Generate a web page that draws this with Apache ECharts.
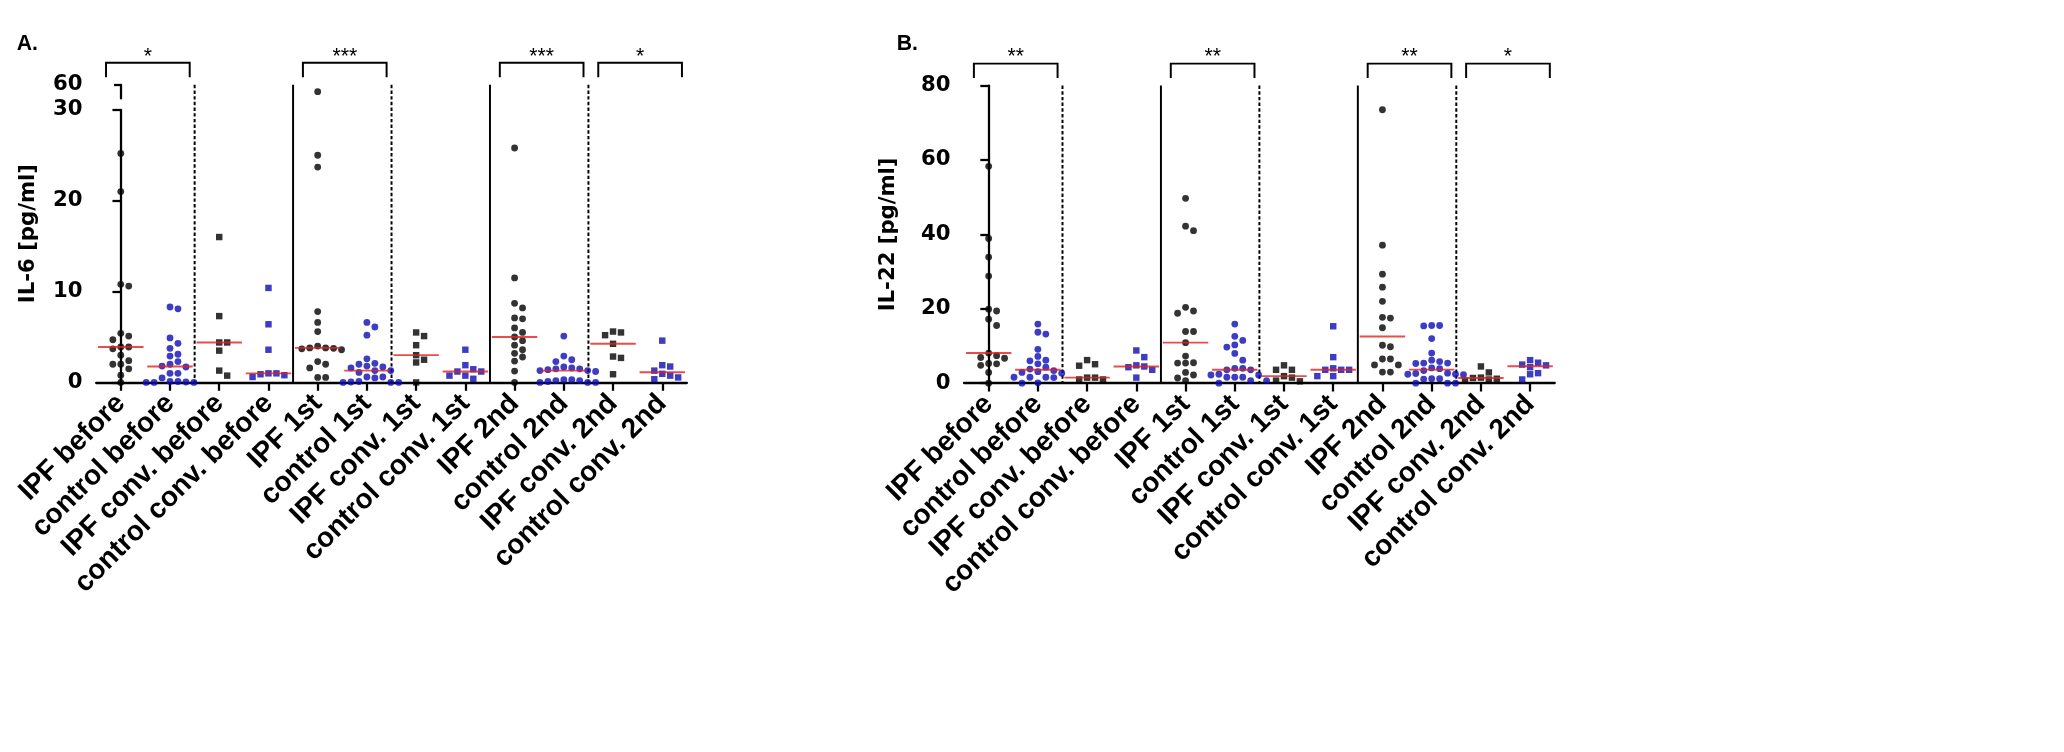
<!DOCTYPE html>
<html lang="en">
<head>
<meta charset="UTF-8">
<title>IL-6 / IL-22</title>
<script src="https://cdn.jsdelivr.net/npm/echarts@6/dist/echarts.min.js"></script>
<style>
  html, body { margin: 0; padding: 0; background: #fff; overflow: hidden; }
  #main { width: 100vw; height: 100vh; }
</style>
</head>
<body>
<div id="main"></div>
<script type="text/javascript">
var categories = ['IPF before', 'control before', 'IPF conv. before', 'control conv. before',
  'IPF 1st', 'control 1st', 'IPF conv. 1st', 'control conv. 1st',
  'IPF 2nd', 'control 2nd', 'IPF conv. 2nd', 'control conv. 2nd'];

// A. IL-6 [pg/ml]
var il6IpfBefore = [25.2, 21.0, 10.8, 10.6, 5.4, 5.1, 4.7, 3.9, 3.9, 3.7, 3.0, 2.4, 2.0, 2.0, 1.5, 0.8, 0.0];
var il6CtrlBefore = [8.3, 8.1, 4.9, 4.3, 3.75, 3.1, 2.9, 2.3, 2.0, 1.8, 1.7, 1.0, 1.0, 0.5, 0.1, 0.1, 0.05, 0.0, 0.0, 0.0];
var il6IpfConvBefore = [16.0, 7.3, 4.4, 4.4, 3.5, 1.3, 0.75];
var il6CtrlConvBefore = [10.4, 6.4, 3.6, 1.0, 1.0, 0.9, 0.8, 0.6];
var il6Ipf1st = [55, 25.0, 23.7, 7.8, 6.6, 5.6, 4.0, 3.8, 3.8, 3.75, 3.7, 3.6, 2.3, 2.0, 1.6, 0.55, 0.55];
var il6Ctrl1st = [6.6, 6.1, 5.2, 2.6, 2.1, 2.0, 1.8, 1.7, 1.6, 1.3, 1.3, 1.1, 0.6, 0.6, 0.5, 0.1, 0.05, 0.0, 0.0, 0.0];
var il6IpfConv1st = [5.5, 5.1, 4.1, 3.0, 2.5, 2.2, 0.0];
var il6CtrlConv1st = [3.6, 1.9, 1.45, 1.2, 1.2, 0.75, 0.75, 0.4];
var il6Ipf2nd = [25.8, 11.5, 8.7, 8.2, 7.1, 7.0, 6.0, 5.5, 5.0, 4.6, 4.1, 3.6, 3.2, 2.8, 2.35, 1.25, 0.0];
var il6Ctrl2nd = [5.1, 2.9, 2.5, 2.3, 1.7, 1.6, 1.5, 1.5, 1.4, 1.3, 1.3, 1.2, 0.3, 0.3, 0.2, 0.2, 0.1, 0.0, 0.0, 0.0];
var il6IpfConv2nd = [5.6, 5.5, 5.2, 4.25, 2.85, 2.7, 0.9];
var il6CtrlConv2nd = [4.6, 1.9, 1.75, 1.3, 0.95, 0.75, 0.55, 0.35];

// B. IL-22 [pg/ml]
var il22IpfBefore = [58.3, 38.9, 33.9, 28.8, 19.9, 19.4, 17.2, 15.5, 8.1, 7.4, 6.9, 6.7, 5.3, 5.2, 4.8, 2.9, 0.0];
var il22CtrlBefore = [15.9, 13.7, 13.2, 9.1, 7.2, 6.2, 6.0, 5.2, 4.3, 3.8, 3.4, 3.1, 2.9, 2.7, 1.6, 1.6, 1.6, 1.5, 0.1, 0.0];
var il22IpfConvBefore = [6.2, 5.1, 4.7, 1.5, 1.5, 1.0, 1.0];
var il22CtrlConvBefore = [8.8, 7.0, 4.8, 4.5, 4.3, 3.6, 1.5];
var il22Ipf1st = [49.7, 42.2, 41.0, 20.4, 19.4, 18.8, 13.9, 13.9, 10.9, 7.3, 5.5, 5.4, 5.4, 2.9, 2.2, 1.4, 0.7];
var il22Ctrl1st = [15.9, 12.6, 11.5, 10.3, 9.7, 8.0, 6.2, 4.0, 4.0, 3.6, 3.6, 2.4, 2.2, 2.2, 1.6, 1.6, 1.6, 0.7, 0.7, 0.0];
var il22IpfConv1st = [4.8, 3.6, 3.6, 1.9, 1.5, 0.7, 0.5];
var il22CtrlConv1st = [15.3, 7.0, 4.0, 3.6, 3.6, 3.6, 1.9, 1.9];
var il22Ipf2nd = [73.5, 37.1, 29.3, 25.8, 22.0, 17.7, 17.5, 14.9, 10.2, 9.8, 6.5, 6.5, 4.9, 4.9, 3.0, 3.0];
var il22Ctrl2nd = [15.5, 15.5, 15.4, 12.0, 8.1, 6.2, 5.8, 5.4, 5.4, 5.3, 4.1, 3.9, 3.4, 2.7, 2.6, 2.4, 2.4, 2.3, 1.2, 1.2, 1.1, 0.0, 0.0, 0.0];
var il22IpfConv2nd = [4.5, 2.9, 1.5, 1.4, 1.2, 1.0, 0.7];
var il22CtrlConv2nd = [6.2, 5.5, 5.0, 4.8, 4.3, 2.7, 2.4, 1.0];

// significance brackets: compared groups and stars
var starPairs = [[0, 1], [4, 5], [8, 9], [10, 11]];
var il6Stars = ['*', '***', '***', '*'];
var il22Stars = ['**', '**', '**', '*'];

var il6 = [il6IpfBefore, il6CtrlBefore, il6IpfConvBefore, il6CtrlConvBefore,
  il6Ipf1st, il6Ctrl1st, il6IpfConv1st, il6CtrlConv1st,
  il6Ipf2nd, il6Ctrl2nd, il6IpfConv2nd, il6CtrlConv2nd];
var il22 = [il22IpfBefore, il22CtrlBefore, il22IpfConvBefore, il22CtrlConvBefore,
  il22Ipf1st, il22Ctrl1st, il22IpfConv1st, il22CtrlConv1st,
  il22Ipf2nd, il22Ctrl2nd, il22IpfConv2nd, il22CtrlConv2nd];

// layout is written for a 2724 x 993 sheet and scaled to the window
var W0 = 2724, H0 = 993;
var k = Math.min(window.innerWidth / W0, window.innerHeight / H0);
function s(v) { return v * k; }

var BLUE = '#0c0cb4';
var RED = '#e3201c';
var markers = [
  { symbol: 'circle', color: '#000', size: s(9) },
  { symbol: 'circle', color: BLUE, size: s(9) },
  { symbol: 'rect', color: '#000', size: s(8.5) },
  { symbol: 'rect', color: BLUE, size: s(8.5) }
];

var catW = s(65);
var plotW = catW * 12;
var gridATop = { left: s(127), top: s(112), width: plotW, height: s(18) };
var gridA = { left: s(127), top: s(145), width: plotW, height: s(360) };
var gridB = { left: s(1273), top: s(113), width: plotW, height: s(393) };

function median(arr) {
  var t = arr.slice().sort(function (a, b) { return a - b; });
  var m = Math.floor(t.length / 2);
  return t.length % 2 ? t[m] : (t[m - 1] + t[m]) / 2;
}

// simple beeswarm: spread points sideways when they would overlap
function swarm(vals, pxPerUnit) {
  var step = s(10.5);
  var order = vals.map(function (v, i) { return i; })
    .sort(function (a, b) { return vals[b] - vals[a]; });
  var placed = [];
  var offs = [];
  order.forEach(function (i) {
    var y = vals[i] * pxPerUnit;
    var found = 0;
    outer:
    for (var n = 0; n < 12; n++) {
      var cands = n === 0 ? [0] : [n * step, -n * step];
      for (var c = 0; c < cands.length; c++) {
        var x = cands[c];
        var hit = placed.some(function (p) {
          var dx = p[0] - x, dy = p[1] - y;
          return dx * dx + dy * dy < (step - 1) * (step - 1);
        });
        if (!hit) { found = x; break outer; }
      }
    }
    placed.push([found, y]);
    offs[i] = found;
  });
  return offs;
}

function scatterSeries(data, xi, yi, m) {
  return {
    type: 'scatter', xAxisIndex: xi, yAxisIndex: yi, data: data,
    symbol: m.symbol, symbolSize: m.size, clip: false, silent: true,
    itemStyle: { color: m.color }, z: 3
  };
}

function panelSeries(groups, cfg) {
  var out = [];
  groups.forEach(function (vals, ci) {
    var offs = swarm(vals, cfg.pxPerUnit);
    var low = [], high = [];
    vals.forEach(function (v, j) {
      var pt = [ci + offs[j] / catW, v];
      if (cfg.breakAt != null && v > cfg.breakAt) high.push(pt); else low.push(pt);
    });
    out.push(scatterSeries(low, cfg.xi, cfg.yi, markers[ci % 4]));
    if (high.length) out.push(scatterSeries(high, cfg.topXi, cfg.topYi, markers[ci % 4]));
  });
  out.push({
    type: 'scatter', xAxisIndex: cfg.xi, yAxisIndex: cfg.yi, silent: true, clip: false,
    symbol: 'rect', symbolSize: [s(60), s(2.5)], itemStyle: { color: RED }, z: 4,
    data: groups.map(function (vals, ci) { return [ci, median(vals)]; })
  });
  return out;
}

var tickFont = { fontFamily: 'DejaVu Sans', fontWeight: 'bold', fontSize: s(28), color: '#000' };
var axisLineStyle = { color: '#000', width: s(3) };

function valueY(gridIndex, min, max, interval, extra) {
  var ax = {
    type: 'value', gridIndex: gridIndex, min: min, max: max, interval: interval,
    splitLine: { show: false },
    axisLine: { show: true, lineStyle: axisLineStyle },
    axisTick: { show: true, length: s(11), lineStyle: axisLineStyle },
    axisLabel: Object.assign({ margin: s(18) }, tickFont)
  };
  return Object.assign(ax, extra || {});
}

function hiddenX(gridIndex) {
  return { type: 'value', gridIndex: gridIndex, min: -0.5, max: 11.5, show: false, position: 'bottom' };
}

function catX(gridIndex) {
  return {
    type: 'category', gridIndex: gridIndex, data: categories, position: 'bottom',
    axisLine: { show: true, lineStyle: axisLineStyle },
    axisTick: { show: true, alignWithLabel: true, length: s(11), lineStyle: axisLineStyle },
    axisLabel: {
      interval: 0, rotate: 45, margin: s(22),
      fontFamily: 'Liberation Sans', fontWeight: 'bold', fontSize: s(37), color: '#000'
    }
  };
}

var panelTitle = { fontFamily: 'Liberation Sans', fontWeight: 'bold', fontSize: s(28), color: '#000' };

var option = {
  animation: false,
  backgroundColor: '#fff',
  title: [
    { text: 'A.', left: s(22), top: s(44), padding: 0, textStyle: panelTitle },
    { text: 'B.', left: s(1184), top: s(44), padding: 0, textStyle: panelTitle }
  ],
  grid: [gridATop, gridA, gridB],
  xAxis: [hiddenX(0), hiddenX(1), catX(1), hiddenX(2), catX(2)],
  yAxis: [
    valueY(0, 50, 60, 10, {
      axisLabel: Object.assign({ margin: s(18), showMinLabel: false, showMaxLabel: true,
        formatter: function (v) { return v === 60 ? '60' : ''; } }, tickFont),
      axisTick: { show: true, length: s(9), lineStyle: axisLineStyle }
    }),
    valueY(1, 0, 30, 10),
    valueY(2, 0, 80, 20)
  ],
  series: []
};

var cfgA = { xi: 1, yi: 1, topXi: 0, topYi: 0, breakAt: 30, pxPerUnit: gridA.height / 30,
  topValue: 60, name: 'IL-6 [pg/ml]', nameOff: 89 };
var cfgB = { xi: 3, yi: 2, topXi: 3, topYi: 2, breakAt: null, pxPerUnit: gridB.height / 80,
  topValue: 80, name: 'IL-22 [pg/ml]', nameOff: 100 };
option.series = panelSeries(il6, cfgA).concat(panelSeries(il22, cfgB));

var myChart = echarts.init(document.getElementById('main'));
myChart.setOption(option);

// separators between groups, significance brackets and axis titles, placed through the axes
var separators = [{ at: 1.5, dotted: true }, { at: 3.5, dotted: false }, { at: 5.5, dotted: true },
  { at: 7.5, dotted: false }, { at: 9.5, dotted: true }];

function panelGraphics(cfg, stars) {
  var els = [];
  var base = { xAxisIndex: cfg.xi, yAxisIndex: cfg.yi };
  var upper = { xAxisIndex: cfg.topXi, yAxisIndex: cfg.topYi };
  var topPx = myChart.convertToPixel(upper, [-0.5, cfg.topValue]);
  var zeroPx = myChart.convertToPixel(base, [-0.5, 0]);
  separators.forEach(function (sp) {
    var t = myChart.convertToPixel(upper, [sp.at, cfg.topValue]);
    var b = myChart.convertToPixel(base, [sp.at, 0]);
    els.push({
      type: 'line', silent: true, z: 1,
      shape: { x1: t[0], y1: t[1], x2: b[0], y2: b[1] },
      style: { stroke: '#000', lineWidth: s(2.6), lineDash: sp.dotted ? [s(4.5), s(3)] : null }
    });
  });
  starPairs.forEach(function (pair, i) {
    var l = myChart.convertToPixel(base, [pair[0] - 0.5 + 0.2, 0])[0];
    var r = myChart.convertToPixel(base, [pair[1] + 0.5 - 0.1, 0])[0];
    var yTop = topPx[1] - s(29), yLeg = topPx[1] - s(10);
    els.push({
      type: 'polyline', silent: true,
      shape: { points: [[l, yLeg], [l, yTop], [r, yTop], [r, yLeg]] },
      style: { stroke: '#000', lineWidth: s(2.6), fill: null }
    });
    els.push({
      type: 'text', silent: true, x: (l + r) / 2, y: yTop - s(22),
      style: { text: stars[i], fill: '#000', font: s(28) + 'px "Liberation Sans"',
        align: 'center', verticalAlign: 'top', textAlign: 'center', textVerticalAlign: 'top' }
    });
  });
  els.push({
    type: 'text', silent: true, rotation: Math.PI / 2,
    x: zeroPx[0] - s(cfg.nameOff), y: (topPx[1] + zeroPx[1]) / 2,
    style: { text: cfg.name, fill: '#000', font: 'bold ' + s(28) + 'px "DejaVu Sans"',
      align: 'center', verticalAlign: 'middle', textAlign: 'center', textVerticalAlign: 'middle' }
  });
  return els;
}

myChart.setOption({ graphic: panelGraphics(cfgA, il6Stars).concat(panelGraphics(cfgB, il22Stars)) });
</script>
</body>
</html>
